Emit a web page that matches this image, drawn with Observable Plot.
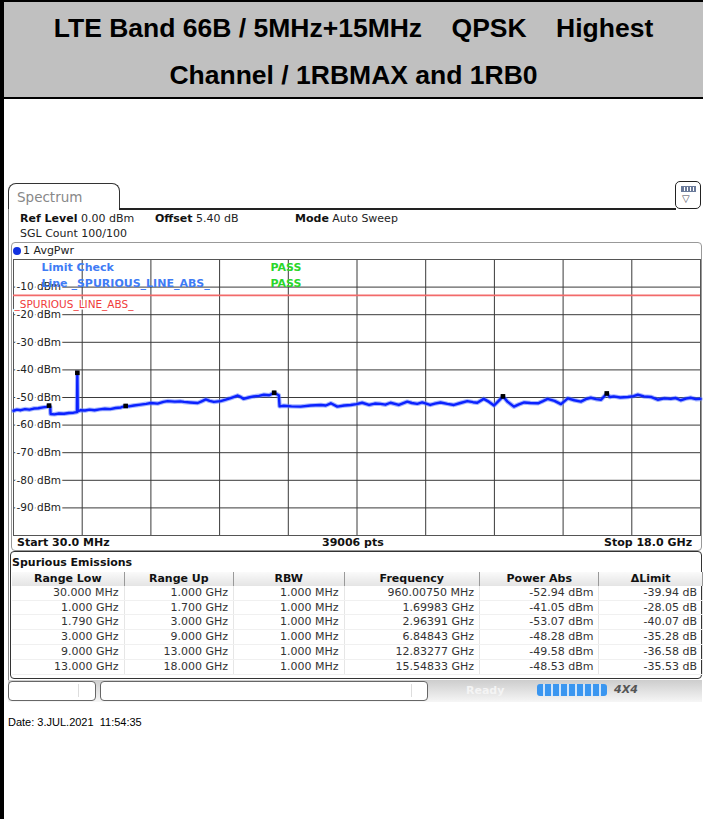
<!DOCTYPE html>
<html>
<head>
<meta charset="utf-8">
<script src="https://cdn.jsdelivr.net/npm/d3@7"></script>
<script src="https://cdn.jsdelivr.net/npm/@observablehq/plot@0.6"></script>
<style>
  html, body { margin: 0; padding: 0; background: #fff; }
  body { width: 703px; height: 819px; position: relative; overflow: hidden; font-family: "DejaVu Sans", sans-serif; }
  .abs { position: absolute; }
  .lbl { position: absolute; font-size: 11px; color: #222; white-space: pre; line-height: 12px; }
  .b { font-weight: bold; color: #111; }
  #title { left: 4px; top: 2px; width: 699px; height: 95px; background: #c0c0c0; border-bottom: 2.5px solid #000; }
  .tline { position: absolute; left: 0; width: 699px; text-align: center; font: bold 26.5px "Liberation Sans", Arial, sans-serif; color: #000; white-space: pre; line-height: 30px; }
  table.sp { border-collapse: collapse; font-size: 11px; }
  table.sp td, table.sp th { padding: 0 5px 0 0; height: 13.8px; line-height: 13.8px; white-space: nowrap; }
  table.sp th { background: linear-gradient(#fafafa, #e4e4e4); font-weight: bold; color: #111; text-align: center; border-right: 1px solid #999; padding: 0; }
  table.sp td { text-align: right; color: #333; border-right: 1px solid #e6e6e6; border-bottom: 1px solid #f0f0f0; }
</style>
</head>
<body>
<div class="abs" style="left:0;top:0;width:4px;height:819px;background:#000"></div>
<div class="abs" style="left:0;top:0;width:703px;height:2px;background:#000"></div>
<div id="title" class="abs">
  <div class="tline" style="top:11px">LTE Band 66B / 5MHz+15MHz    QPSK    Highest</div>
  <div class="tline" style="top:58px">Channel / 1RBMAX and 1RB0</div>
</div>

<!-- Spectrum tab -->
<div class="abs" style="left:8px;top:183px;width:110px;height:26px;border:1.5px solid #333;border-bottom:none;border-radius:8px 8px 0 0;"></div>
<div class="lbl" style="left:17px;top:189px;font-size:13.5px;line-height:16px;color:#888">Spectrum</div>
<div class="abs" style="left:119px;top:208px;width:557px;height:1.5px;background:#222"></div>
<div class="abs" style="left:675px;top:181px;width:24px;height:26px;border:1.5px solid #222;border-radius:5px;background:#fff"></div>
<div class="abs" style="left:681px;top:186px;width:13px;height:4px;border:1px solid #6a7a9a;background:repeating-linear-gradient(90deg,#6a7a9a 0 2px,#fff 2px 3px)"></div>
<div class="lbl" style="left:682px;top:193px;font-size:10px;color:#445">▽</div>
<div class="abs" style="left:8px;top:209px;width:1px;height:471px;background:#888"></div>

<div class="lbl" style="left:20px;top:213px"><span class="b">Ref Level</span> 0.00 dBm</div>
<div class="lbl" style="left:155px;top:213px"><span class="b">Offset</span> 5.40 dB</div>
<div class="lbl" style="left:295px;top:213px"><span class="b">Mode</span> Auto Sweep</div>
<div class="lbl" style="left:20px;top:228px">SGL Count 100/100</div>

<!-- trace box -->
<div class="abs" style="left:11px;top:242px;width:689px;height:307px;border:1px solid #999;border-radius:4px"></div>
<div class="abs" style="left:13px;top:247px;width:8px;height:8px;border-radius:50%;background:#1030e0"></div>
<div class="lbl" style="left:23px;top:245px">1 AvgPwr</div>
<div id="chart" class="abs" style="left:11px;top:257px"></div>
<div class="lbl b" style="left:17px;top:537px">Start 30.0 MHz</div>
<div class="lbl b" style="left:322px;top:537px">39006 pts</div>
<div class="lbl b" style="left:604px;top:537px">Stop 18.0 GHz</div>

<!-- table -->
<div class="abs" style="left:10px;top:551px;width:690px;height:126px;border:1.5px solid #333;border-radius:4px"></div>
<div class="lbl b" style="left:12px;top:557px">Spurious Emissions</div>
<div id="tbl" class="abs" style="left:12px;top:572px"></div>

<!-- status bar -->
<div class="abs" style="left:8px;top:680px;width:694px;height:22px;background:linear-gradient(#cdcdcd,#f6f6f6)"></div>
<div class="abs" style="left:8px;top:681px;width:86px;height:18px;border:1px solid #666;border-radius:4px;background:#fff"></div>
<div class="abs" style="left:78px;top:684px;width:1px;height:13px;background:#ddd"></div>
<div class="abs" style="left:100px;top:681px;width:326px;height:18px;border:1px solid #666;border-radius:4px;background:#fff"></div>
<div class="abs" style="left:411px;top:684px;width:1px;height:13px;background:#ddd"></div>
<div class="lbl b" style="left:466px;top:685px;color:#f4f4f4">Ready</div>
<div class="abs" style="left:537px;top:684px;width:70px;height:12px;border-radius:3px;background:repeating-linear-gradient(90deg,#3a96f0 0 6.5px,#cfe4fa 6.5px 8px)"></div>
<div class="lbl" style="left:614px;top:684px;font-weight:bold;font-style:italic;color:#555;font-size:11px">4X4</div>

<div class="abs" style="left:8px;top:716px;font:11px 'Liberation Sans', Arial, sans-serif;white-space:pre;color:#000">Date: 3.JUL.2021  11:54:35</div>

<script>
// ---- data ----
const startGHz = 0.03;
const stopGHz = 18.0;
const refLevel = 0;
const bottomLevel = -100;
const yTicks = [-10, -20, -30, -40, -50, -60, -70, -80, -90];
const limitLevel = -13;

const traceFreqGHz = [
  0.03, 0.12, 0.22, 0.33, 0.45, 0.56, 0.68, 0.80, 0.90, 0.96, 0.99,
  1.00, 1.10, 1.22, 1.35, 1.48, 1.60, 1.69, 1.6998, 1.71,
  1.79, 1.90, 2.02, 2.15, 2.28, 2.42, 2.56, 2.70, 2.84, 2.964,
  3.05, 3.18, 3.35, 3.50, 3.62, 3.80, 3.95, 4.06, 4.25, 4.40, 4.49, 4.65, 4.85, 4.95,
  5.06, 5.16, 5.27, 5.45, 5.58, 5.71, 5.89, 5.97, 6.05, 6.18, 6.31, 6.45, 6.58, 6.72,
  6.848, 6.93, 6.97, 6.99, 7.10, 7.30, 7.54, 7.80, 8.07, 8.20, 8.33, 8.50, 8.68, 8.85,
  9.00, 9.15, 9.33, 9.48, 9.63, 9.76, 9.89, 10.11, 10.33, 10.45, 10.59, 10.72, 10.93,
  11.05, 11.20, 11.38, 11.55, 11.72, 11.90, 12.05, 12.16, 12.33, 12.47, 12.60, 12.72,
  12.833, 12.95, 13.12, 13.25, 13.39, 13.55, 13.75, 13.88, 14.00, 14.18, 14.35, 14.53,
  14.70, 14.87, 15.00, 15.13, 15.27, 15.40, 15.548, 15.63, 15.73, 15.90, 16.10, 16.25,
  16.36, 16.52, 16.70, 16.88, 17.05, 17.22, 17.35, 17.48, 17.62, 17.74, 17.88, 18.00
];
const traceLevelDbm = [
  -54.8, -54.4, -54.6, -54.2, -54.4, -54.0, -53.9, -53.6, -53.4, -52.94, -53.3,
  -56.0, -56.1, -55.8, -55.9, -55.6, -55.5, -55.3, -41.05, -55.0,
  -54.6, -54.7, -54.4, -54.6, -54.3, -54.1, -54.2, -53.8, -53.6, -53.07,
  -53.2, -52.9, -52.6, -52.3, -52.0, -52.2, -51.6, -51.3, -51.5, -51.4, -51.6, -51.8, -52.0, -51.4,
  -50.7, -51.2, -51.6, -51.3, -50.8, -50.2, -49.3, -49.8, -50.5, -50.0, -49.6, -49.4, -49.0, -49.2,
  -48.28, -48.9, -49.2, -53.2, -53.0, -53.2, -53.3, -52.9, -52.7, -52.9, -52.1, -53.3, -52.9, -52.7,
  -52.4, -51.9, -52.7, -52.2, -52.3, -52.6, -51.9, -52.7, -51.5, -52.0, -52.3, -51.8, -52.7,
  -52.2, -51.8, -52.3, -52.7, -52.0, -51.3, -51.7, -51.9, -50.5, -51.6, -52.9, -51.2,
  -49.58, -51.5, -53.3, -52.5, -51.8, -52.0, -52.1, -51.3, -50.5, -51.2, -52.4, -50.3,
  -51.0, -51.5, -50.6, -50.1, -50.6, -50.8, -48.53, -49.8, -49.6, -50.0, -49.8, -49.5,
  -49.0, -49.6, -49.8, -50.8, -50.3, -50.5, -50.2, -51.0, -50.4, -50.1, -50.6, -50.5
];

// Spurious emissions table
const rangeLow = ["30.000 MHz", "1.000 GHz", "1.790 GHz", "3.000 GHz", "9.000 GHz", "13.000 GHz"];
const rangeUp = ["1.000 GHz", "1.700 GHz", "3.000 GHz", "9.000 GHz", "13.000 GHz", "18.000 GHz"];
const rbw = ["1.000 MHz", "1.000 MHz", "1.000 MHz", "1.000 MHz", "1.000 MHz", "1.000 MHz"];
const peakFreqLabel = ["960.00750 MHz", "1.69983 GHz", "2.96391 GHz", "6.84843 GHz", "12.83277 GHz", "15.54833 GHz"];
const peakFreqGHz = [0.9600075, 1.69983, 2.96391, 6.84843, 12.83277, 15.54833];
const peakPowerDbm = [-52.94, -41.05, -53.07, -48.28, -49.58, -48.53];
const deltaLimitDb = [-39.94, -28.05, -40.07, -35.28, -36.58, -35.53];
const headers = ["Range Low", "Range Up", "RBW", "Frequency", "Power Abs", "\u0394Limit"];
const colWidths = [112, 109, 110, 135, 119, 103];
const limitRows = [
  {label: "Limit Check", result: "PASS", dy: 8},
  {label: "Line _SPURIOUS_LINE_ABS_", result: "PASS", dy: 24}
];

// ---- chart ----
const trace = traceFreqGHz.map((f, i) => ({f, p: traceLevelDbm[i]}));
const peaks = peakFreqGHz.map((f, i) => ({f, p: peakPowerDbm[i]}));
const xGrid = d3.range(1, 10).map(i => startGHz + i * (stopGHz - startGHz) / 10);
const font = "DejaVu Sans";

const limitTextMarks = limitRows.flatMap(r => [
  Plot.text([r.label], {frameAnchor: "top-left", dx: 28, dy: r.dy, lineAnchor: "middle", textAnchor: "start",
    fill: "#3f7cf5", fontWeight: "bold", fontSize: 11, fontFamily: font}),
  Plot.text([r.result], {frameAnchor: "top-left", dx: 257, dy: r.dy, lineAnchor: "middle", textAnchor: "start",
    fill: "#2bd62b", fontWeight: "bold", fontSize: 11, fontFamily: font})
]);

const chart = Plot.plot({
  width: 691,
  height: 280,
  marginLeft: 2, marginRight: 2, marginTop: 2, marginBottom: 2,
  x: {domain: [startGHz, stopGHz], axis: null},
  y: {domain: [bottomLevel, refLevel], axis: null},
  style: {background: "transparent", overflow: "visible"},
  marks: [
    Plot.ruleY(yTicks, {stroke: "#3a3a3a", strokeWidth: 1}),
    Plot.ruleX(xGrid, {stroke: "#3a3a3a", strokeWidth: 1}),
    Plot.frame({stroke: "#555"}),
    Plot.ruleY([limitLevel], {stroke: "#f26a6a", strokeWidth: 1.6}),
    Plot.line(trace, {x: "f", y: "p", stroke: "#5b78ff", strokeWidth: 4.5, strokeOpacity: 0.55}),
    Plot.line(trace, {x: "f", y: "p", stroke: "#0b22ff", strokeWidth: 2.4}),
    Plot.dot(peaks, {x: "f", y: "p", symbol: "square", r: 2.6, fill: "#000", stroke: "none"}),
    Plot.text(yTicks, {y: d => d, frameAnchor: "left", dx: 3, textAnchor: "start", text: d => `${d} dBm`,
      fill: "#222", stroke: "white", strokeWidth: 4, paintOrder: "stroke", fontSize: 10.5, fontFamily: font}),
    Plot.text(["_SPURIOUS_LINE_ABS_"], {frameAnchor: "left", y: [limitLevel], dx: 1, dy: 9, textAnchor: "start",
      fill: "#f03c3c", stroke: "white", strokeWidth: 3, paintOrder: "stroke", fontSize: 10.5, fontFamily: font}),
    ...limitTextMarks
  ]
});
document.getElementById("chart").appendChild(chart);

// ---- table ----
let html = '<table class="sp"><tr>';
headers.forEach((h, i) => html += `<th style="width:${colWidths[i]}px">${h}</th>`);
html += '</tr>';
for (let r = 0; r < rangeLow.length; r++) {
  const cells = [rangeLow[r], rangeUp[r], rbw[r], peakFreqLabel[r],
    peakPowerDbm[r].toFixed(2) + " dBm", deltaLimitDb[r].toFixed(2) + " dB"];
  html += '<tr>' + cells.map((c, i) => `<td style="width:${colWidths[i] - 5}px">${c}</td>`).join('') + '</tr>';
}
html += '</table>';
document.getElementById("tbl").innerHTML = html;
</script>
</body>
</html>
